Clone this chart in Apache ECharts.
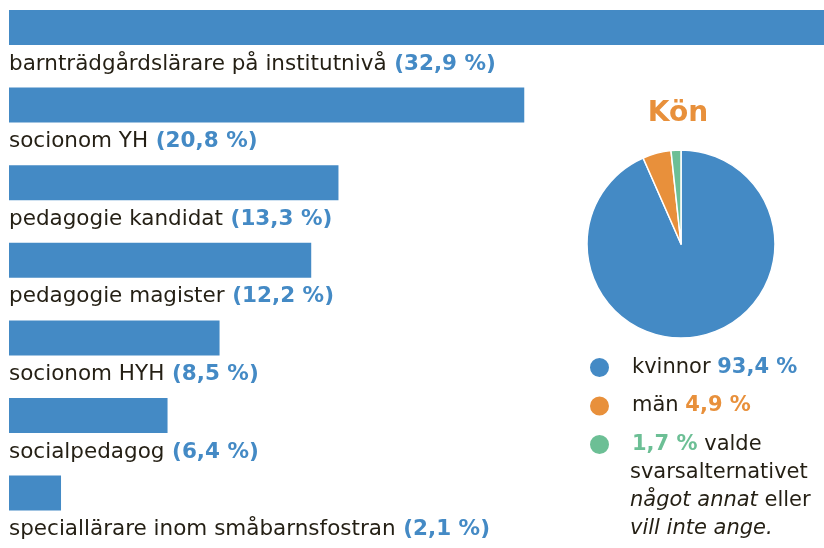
<!DOCTYPE html>
<html>
<head>
<meta charset="utf-8">
<style>
  html, body { margin: 0; padding: 0; background: #fff; }
  #chart { width: 824px; height: 548px; }
</style>
<script src="https://cdn.jsdelivr.net/npm/echarts@6/dist/echarts.min.js"></script>
</head>
<body>
<div id="chart"></div>
<script>
// utbildning (staplar)
var categories = [
  'barnträdgårdslärare på institutnivå',
  'socionom YH',
  'pedagogie kandidat',
  'pedagogie magister',
  'socionom HYH',
  'socialpedagog',
  'speciallärare inom småbarnsfostran'
];
var shares = [32.9, 20.8, 13.3, 12.2, 8.5, 6.4, 2.1];

// kön (cirkel)
var genderNames = ['kvinnor', 'män', 'annat'];
var genderValues = [93.4, 4.9, 1.7];

var blue = '#448ac5';
var orange = '#e8903b';
var green = '#6cbf95';
var ink = '#241f14';
var font = '"DejaVu Sans", sans-serif';

function pct(v) {
  return v.toFixed(1).replace('.', ',') + ' %';
}

var chart = echarts.init(document.getElementById('chart'));

var option = {
  animation: false,
  textStyle: { fontFamily: font },
  title: {
    text: 'Kön',
    left: 678,
    textAlign: 'center',
    top: 100,
    padding: 0,
    textStyle: { color: orange, fontSize: 28, fontWeight: 'bold', fontFamily: font }
  },
  grid: { left: 9, right: 0, top: 27.5, height: 465.6 },
  xAxis: {
    type: 'value', min: 0, max: 32.9, show: false
  },
  yAxis: {
    type: 'category', inverse: true, boundaryGap: false, data: categories, show: false
  },
  legend: {
    orient: 'vertical',
    left: 588,
    top: 356,
    padding: 0,
    icon: 'circle',
    itemWidth: 21,
    itemHeight: 21,
    itemGap: 15.5,
    selectedMode: false,
    data: genderNames,
    formatter: function (name) {
      var i = genderNames.indexOf(name);
      if (i === 0) return 'kvinnor {b|' + pct(genderValues[0]) + '}';
      if (i === 1) return 'män {o|' + pct(genderValues[1]) + '}';
      return '{g|' + pct(genderValues[2]) + '} valde';
    },
    textStyle: {
      color: ink, fontSize: 21, lineHeight: 22, fontFamily: font, padding: [0, 0, 0, 17],
      rich: {
        b: { color: blue, fontWeight: 'bold', fontSize: 21, lineHeight: 22, fontFamily: font },
        o: { color: orange, fontWeight: 'bold', fontSize: 21, lineHeight: 22, fontFamily: font },
        g: { color: green, fontWeight: 'bold', fontSize: 21, lineHeight: 22, fontFamily: font }
      }
    }
  },
  graphic: [{
    type: 'text',
    left: 630,
    top: 459,
    style: {
      text: 'svarsalternativet\n{i|något annat} eller\n{i|vill inte ange.}',
      fill: ink,
      font: '21px ' + font,
      lineHeight: 28,
      rich: {
        i: { fontStyle: 'italic', fontSize: 21, fontFamily: font, fill: ink, lineHeight: 28 }
      }
    }
  }],
  series: [{
    type: 'bar',
    data: shares,
    barWidth: 35,
    itemStyle: { color: blue },
    label: {
      show: true,
      position: [0, 54],
      verticalAlign: 'middle',
      align: 'left',
      formatter: function (p) {
        return '{n|' + p.name + '}  {v|(' + pct(p.value) + ')}';
      },
      rich: {
        n: { color: ink, fontSize: 21.5, fontFamily: font },
        v: { color: blue, fontSize: 21.5, fontWeight: 'bold', fontFamily: font }
      }
    }
  }, {
    type: 'pie',
    center: [681, 244],
    radius: 94,
    startAngle: 90,
    clockwise: true,
    label: { show: false },
    labelLine: { show: false },
    itemStyle: { borderColor: '#fff', borderWidth: 1.5 },
    data: genderNames.map(function (n, i) {
      return { name: n, value: genderValues[i], itemStyle: { color: [blue, orange, green][i] } };
    })
  }]
};

chart.setOption(option);
</script>
</body>
</html>
